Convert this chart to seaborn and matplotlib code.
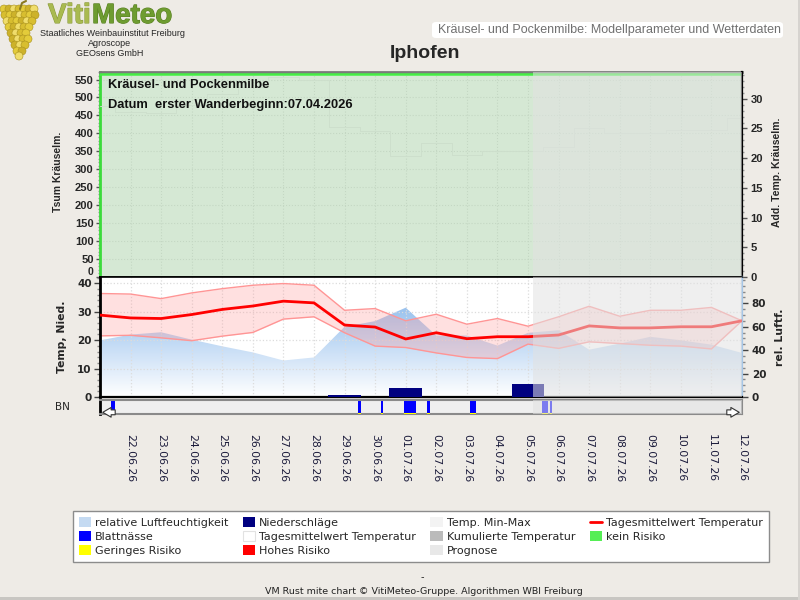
import numpy as np
import pandas as pd
import seaborn as sns
import matplotlib.pyplot as plt
import matplotlib.dates as mdates
from matplotlib.colors import LinearSegmentedColormap
from matplotlib.patches import Patch, FancyBboxPatch, Circle, Rectangle
from matplotlib.lines import Line2D
from matplotlib.ticker import MultipleLocator
import matplotlib.patheffects as pe

# ---- values ----
dates = ["21.06.26", "22.06.26", "23.06.26", "24.06.26", "25.06.26", "26.06.26",
         "27.06.26", "28.06.26", "29.06.26", "30.06.26", "01.07.26", "02.07.26",
         "03.07.26", "04.07.26", "05.07.26", "06.07.26", "07.07.26", "08.07.26",
         "09.07.26", "10.07.26", "11.07.26", "12.07.26"]
temp_mean = [28.8, 27.8, 27.6, 29.0, 30.8, 32.0, 33.7, 33.1, 25.3, 24.6, 20.4,
             22.6, 20.5, 21.2, 21.2, 21.8, 25.0, 24.3, 24.3, 24.7, 24.7, 26.8]
temp_max = [36.4, 36.2, 34.6, 36.6, 38.1, 39.3, 39.9, 39.3, 30.5, 31.1, 26.8,
            29.1, 25.6, 27.6, 24.9, 28.2, 31.9, 28.4, 30.5, 30.5, 31.5, 26.8]
temp_min = [21.5, 21.7, 20.8, 19.8, 21.4, 22.7, 27.4, 28.2, 22.6, 17.9, 17.4,
            15.5, 13.9, 13.5, 18.6, 17.1, 19.4, 18.8, 18.2, 17.9, 16.9, 26.8]
rel_humidity = [48.4, 53.3, 55.3, 49.0, 43.3, 38.1, 31.2, 33.8, 60.0, 64.8, 76.3,
                52.5, 52.5, 43.9, 54.8, 57.0, 40.4, 45.6, 51.4, 48.4, 44.7, 37.6]
rain_dates = ["29.06.26", "01.07.26", "05.07.26"]
rain_mm = [0.7, 3.3, 4.5]
bn_start = ["21.06.26 09:00", "29.06.26 10:30", "30.06.26 04:30", "30.06.26 23:00",
            "01.07.26 17:00", "03.07.26 02:30", "05.07.26 11:00", "05.07.26 17:15"]
bn_hours = [3, 2.5, 2, 9, 2, 5, 5, 1.5]
prognose_start = "05.07.26 04:00"
station = "Iphofen"
wanderbeginn = "07.04.2026"

BG = "#EEEBE6"
PROG = "#E2E2E2"

sns.set_style("white")
plt.rcParams["font.family"] = ["DejaVu Sans"]

df = pd.DataFrame({
    "datum": pd.to_datetime(dates, format="%d.%m.%y"),
    "tmean": temp_mean, "tmax": temp_max, "tmin": temp_min, "rh": rel_humidity,
})
x = df["datum"]
x0, x1 = x.iloc[0], x.iloc[-1]
prog = pd.to_datetime(prognose_start, format="%d.%m.%y %H:%M")


def fx(px):
    return px / 800


def fy(py):
    return 1 - py / 600


fig = plt.figure(figsize=(8, 6), dpi=100, facecolor=BG)
ax_k = fig.add_axes([fx(100), fy(277), 642 / 800, 205 / 600])
ax_t = fig.add_axes([fx(100), fy(397), 642 / 800, 120 / 600])
ax_bn = fig.add_axes([fx(100), fy(414), 642 / 800, 14 / 600])

lib_bold = dict(family="Liberation Sans", weight="bold", size=8)
dv_bold = dict(family="DejaVu Sans", weight="bold", size=7.5)

# ---------------- top panel: Kräuselmilbe ----------------
ax_k2 = ax_k.twinx()
ax_k.set_xlim(x0, x1)
ax_k.set_ylim(0, 571)
ax_k2.set_ylim(0, 34.5)
ax_k.axvspan(x0, x1, color="#D5E8D4", lw=0, zorder=0)
ax_k.axhline(565, color="#44EE44", lw=1.8, zorder=3)
sns.lineplot(data=df, x="datum", y="tmean", ax=ax_k2, color="#CDDFCC", lw=0.7,
             drawstyle="steps-mid", legend=False, zorder=1)
ax_k2.axvspan(prog, x1, color=PROG, alpha=0.55, lw=0, zorder=10)

ax_k.set_xticks(x.iloc[1:])
ax_k.tick_params(axis="x", length=0, labelbottom=False)
ax_k.set_yticks(range(0, 551, 50))
ax_k.yaxis.set_minor_locator(MultipleLocator(10))
ax_k.tick_params(axis="y", which="major", length=3, width=1, pad=1.5, color="#555")
ax_k.tick_params(axis="y", which="minor", length=1.5, width=1, color="#999")
ax_k.grid(True, color="#C4D7C3", ls=":", lw=0.8)
for lab in ax_k.get_yticklabels():
    lab.set(**lib_bold)
# the 0 of the upper panel sits just above the lower panel's 40
ax_k.get_yticklabels()[0].set(va="bottom", size=7.5)
ax_k2.set_yticks(range(0, 31, 5))
ax_k2.yaxis.set_minor_locator(MultipleLocator(1))
ax_k2.tick_params(axis="y", which="major", length=3.5, width=1, pad=2.5, color="#555")
ax_k2.tick_params(axis="y", which="minor", length=1.5, width=1, color="#999")
for lab in ax_k2.get_yticklabels():
    lab.set(**lib_bold)
ax_k.set_xlabel("")
ax_k.set_ylabel("")
ax_k2.set_xlabel("")
ax_k2.set_ylabel("")
ax_k.spines["left"].set(color="#3BDB3B", lw=2)
ax_k.spines["top"].set(color="#7A7A7A", lw=2)
ax_k.spines["bottom"].set(color="black", lw=1.2)
ax_k.spines["right"].set_visible(False)
for s in ["left", "top", "bottom"]:
    ax_k2.spines[s].set_visible(False)
ax_k2.spines["right"].set(color="black", lw=1.6)

ax_k2.text(0.0125, 0.937, "Kräusel- und Pockenmilbe", transform=ax_k2.transAxes,
           family="Liberation Sans", weight="bold", size=9.3, color="#111",
           va="center", ha="left", zorder=12)
ax_k2.text(0.0125, 0.84, "Datum  erster Wanderbeginn:" + wanderbeginn,
           transform=ax_k2.transAxes, family="Liberation Sans", weight="bold",
           size=9.3, color="#111", va="center", ha="left", zorder=12)

# ---------------- middle panel: Temperatur / Niederschlag / Luftfeuchte ----------------
ax_h = ax_t.twinx()
ax_t.set_zorder(3)
ax_h.set_zorder(2)
ax_t.patch.set_visible(False)
ax_h.patch.set_visible(True)
ax_h.set_facecolor("white")

ax_t.set_xlim(x0, x1)
ax_t.set_ylim(0, 42.2)

# humidity as gradient area
xn = mdates.date2num(x)
area = ax_h.fill_between(xn, df["rh"], 0, color="none", lw=0)
grad = np.linspace(0, 1, 256).reshape(-1, 1)
cmap = LinearSegmentedColormap.from_list("rh", ["#FFFFFF", "#7AAFE9"])
im = ax_h.imshow(grad, extent=[xn[0], xn[-1], 0, 100], origin="lower",
                 aspect="auto", cmap=cmap, zorder=1)
im.set_clip_path(area.get_paths()[0], transform=ax_h.transData)
ax_h.set_xlim(x0, x1)
ax_h.set_ylim(0, 102.5)

ax_t.fill_between(x, df["tmin"], df["tmax"], color="#FF9A9A", alpha=0.3, lw=0, zorder=1)
sns.lineplot(data=df, x="datum", y="tmax", ax=ax_t, color="#FF9595", lw=1, zorder=2)
sns.lineplot(data=df, x="datum", y="tmin", ax=ax_t, color="#FF9595", lw=1, zorder=2)
sns.lineplot(data=df, x="datum", y="tmean", ax=ax_t, color="#FF0000", lw=2, zorder=3)
ax_t.bar(pd.to_datetime(rain_dates, format="%d.%m.%y"), rain_mm, width=1.07,
         color="#000080", lw=0, zorder=4)
ax_t.axvspan(prog, x1, color=PROG, alpha=0.55, lw=0, zorder=10)

ax_t.set_xlabel("")
ax_t.set_ylabel("")
ax_h.set_ylabel("")
ax_t.set_xticks(x.iloc[1:])
ax_t.tick_params(axis="x", length=0, labelbottom=False)
ax_h.tick_params(axis="x", length=0, labelbottom=False)
ax_t.set_axisbelow(True)
ax_t.grid(True, color="#DCDCDC", ls=":", lw=0.9)
ax_t.set_yticks(range(0, 41, 10))
ax_t.yaxis.set_minor_locator(MultipleLocator(2))
ax_t.tick_params(axis="y", which="major", length=4, width=1, pad=2, color="#444")
ax_t.tick_params(axis="y", which="minor", length=2, width=1, color="#888")
for lab in ax_t.get_yticklabels():
    lab.set(**dv_bold)
ax_h.set_yticks(range(0, 81, 20))
ax_h.yaxis.set_minor_locator(MultipleLocator(5))
ax_h.tick_params(axis="y", which="major", length=4, width=1, pad=3, color="#444")
ax_h.tick_params(axis="y", which="minor", length=2, width=1, color="#888")
for lab in ax_h.get_yticklabels():
    lab.set(**dv_bold)
ax_t.spines["left"].set(color="black", lw=2)
ax_t.spines["top"].set(color="black", lw=1.2)
ax_t.spines["bottom"].set(color="black", lw=1.6)
ax_t.spines["right"].set_visible(False)
for s in ["left", "top", "bottom"]:
    ax_h.spines[s].set_visible(False)
ax_h.spines["right"].set(color="#A6C6E6", lw=1.6)

# ---------------- BN strip: Blattnässe ----------------
ax_bn.set_facecolor("#EFEFEF")
ax_bn.set_xlim(x0, x1)
ax_bn.set_ylim(0, 1)
bn_x = pd.to_datetime(bn_start, format="%d.%m.%y %H:%M")
bn_w = np.array(bn_hours) / 24
ax_bn.bar(bn_x, 1, width=bn_w, align="edge", color="#0000FF", lw=0, zorder=2)
ax_bn.bar(bn_x, 0.1, width=bn_w, align="edge", color="#FFFF00", lw=0, zorder=3)
ax_bn.axvspan(prog, x1, color=PROG, alpha=0.55, lw=0, zorder=10)
ax_bn.set_yticks([])
ax_bn.set_xticks(x.iloc[1:])
ax_bn.set_xticklabels(dates[1:], rotation=-90, family="DejaVu Sans", size=7.8,
                      color="#1C1C3C")
ax_bn.xaxis.set_minor_locator(mdates.HourLocator(interval=3))
ax_bn.tick_params(axis="x", which="major", length=3.5, width=1, pad=11, color="#AAA")
ax_bn.tick_params(axis="x", which="minor", length=1.5, width=1, color="#AAA")
for s in ["top", "bottom", "right"]:
    ax_bn.spines[s].set(color="#8A8A8A", lw=1.5)
ax_bn.spines["left"].set(color="black", lw=2)
arrow = dict(arrowstyle="simple,head_length=0.6,head_width=0.7,tail_width=0.35",
             fc="white", ec="#333", lw=0.8)
ax_bn.annotate("", xy=(0.0, 0.12), xytext=(0.028, 0.12), xycoords="axes fraction",
               arrowprops=arrow, zorder=12, annotation_clip=False)
ax_bn.annotate("", xy=(1.0, 0.12), xytext=(0.972, 0.12), xycoords="axes fraction",
               arrowprops=arrow, zorder=12, annotation_clip=False)

# ---------------- axis titles ----------------
fig.text(fx(58), fy(172), "Tsum Kräuselm.", rotation=90, ha="center", va="center",
         family="Liberation Sans", weight="bold", size=7.5)
fig.text(fx(777), fy(172), "Add. Temp. Kräuselm.", rotation=90, ha="center",
         va="center", family="Liberation Sans", weight="bold", size=7.5)
fig.text(fx(62), fy(337), "Temp, Nied.", rotation=90, ha="center", va="center",
         family="DejaVu Sans", weight="bold", size=7.8)
fig.text(fx(780), fy(337), "rel. Luftf.", rotation=90, ha="center", va="center",
         family="DejaVu Sans", weight="bold", size=7.8)
fig.text(fx(62), fy(407), "BN", ha="center", va="center", family="DejaVu Sans",
         size=7.5)

# ---------------- header ----------------
# grape bunch of the logo
ax_logo = fig.add_axes([0, fy(62), 44 / 800, 62 / 600])
ax_logo.set_xlim(0, 44)
ax_logo.set_ylim(62, 0)
ax_logo.axis("off")
ax_logo.plot([20, 22, 26], [9, 3, 1], color="#8A7A20", lw=1.5)
grape_rows = [(9, 4, 38), (15, 5, 37), (21, 7, 35), (27, 9, 32), (33, 11, 30),
              (39, 13, 28), (45, 15, 26), (51, 17, 24), (56, 19, 22)]
shades = ["#E3CB3A", "#CDB22A", "#F0DD6A", "#D8BE30"]
k = 0
for gy, ga, gb in grape_rows:
    for gx in np.arange(ga, gb + 0.1, 5):
        ax_logo.add_patch(Circle((gx, gy), 4.0, fc=shades[k % 4], ec="#A8901E", lw=0.4))
        k += 1

fig.text(fx(48), fy(16), "Viti", ha="left", va="center", family="Liberation Sans",
         weight="bold", size=20, color="#A9BA50",
         path_effects=[pe.withStroke(linewidth=0.8, foreground="#8A9A3A")])
fig.text(fx(92), fy(16), "Meteo", ha="left", va="center", family="Liberation Sans",
         weight="bold", size=20, color="#6E9C30",
         path_effects=[pe.withStroke(linewidth=0.8, foreground="#587F22")])
fig.text(fx(112), fy(33), "Staatliches Weinbauinstitut Freiburg", ha="center",
         va="center", family="Liberation Sans", size=6.5)
fig.text(fx(110), fy(43.5), "Agroscope", ha="center", va="center",
         family="Liberation Sans", size=6.5)
fig.text(fx(110), fy(54), "GEOsens GmbH", ha="center", va="center",
         family="Liberation Sans", size=6.5)

box = FancyBboxPatch((fx(432), fy(38)), 351 / 800, 16 / 600,
                     boxstyle="round,pad=0,rounding_size=0.005",
                     transform=fig.transFigure, fc="white", ec="none")
fig.patches.append(box)
fig.text(fx(781), fy(30), "Kräusel- und Pockenmilbe: Modellparameter und Wetterdaten",
         ha="right", va="center", family="Liberation Sans", size=9, color="#707070")
fig.text(fx(425), fy(54), station, ha="center", va="center",
         family="Liberation Sans", weight="bold", size=14)

# ---------------- legend ----------------
handles = [
    Patch(fc="#C4DAF2", ec="none"), Patch(fc="#0000FF", ec="none"),
    Patch(fc="#FFFF00", ec="none"),
    Patch(fc="#000080", ec="none"), Patch(fc="white", ec="#E2E2E2", lw=0.8),
    Patch(fc="#FF0000", ec="none"),
    Patch(fc="#F3F3F3", ec="none"), Patch(fc="#BBBBBB", ec="none"),
    Patch(fc="#E8E8E8", ec="none"),
    Line2D([], [], color="#FF0000", lw=2), Patch(fc="#55EE55", ec="none"),
]
labels = ["relative Luftfeuchtigkeit", "Blattnässe", "Geringes Risiko",
          "Niederschläge", "Tagesmittelwert Temperatur", "Hohes Risiko",
          "Temp. Min-Max", "Kumulierte Temperatur", "Prognose",
          "Tagesmittelwert Temperatur", "kein Risiko"]
leg = fig.legend(handles, labels, ncol=4, loc="upper left",
                 bbox_to_anchor=(fx(73), fy(511)), bbox_transform=fig.transFigure,
                 frameon=True, fancybox=False, edgecolor="#8C8C8C", framealpha=1,
                 borderaxespad=0, borderpad=0.55, handlelength=1.1, handleheight=1.0,
                 handletextpad=0.35, columnspacing=1.3, labelspacing=0.3,
                 prop={"family": "DejaVu Sans", "size": 8})
leg.get_frame().set_linewidth(1)

# ---------------- footer ----------------
fig.text(fx(422), fy(577), "-", ha="center", va="center", size=7)
fig.text(fx(424), fy(591), "VM Rust mite chart © VitiMeteo-Gruppe. Algorithmen WBI Freiburg",
         ha="center", va="center", family="DejaVu Sans", size=6.8, color="#222")
fig.patches.append(Rectangle((0, 0), 1, 3 / 600, transform=fig.transFigure,
                             fc="#C8C6C2", ec="none"))
fig.patches.append(Rectangle((1 - 2 / 800, 0), 2 / 800, 1, transform=fig.transFigure,
                             fc="#D6D3CF", ec="none"))

fig.savefig("out.png", dpi=100, facecolor=BG)
